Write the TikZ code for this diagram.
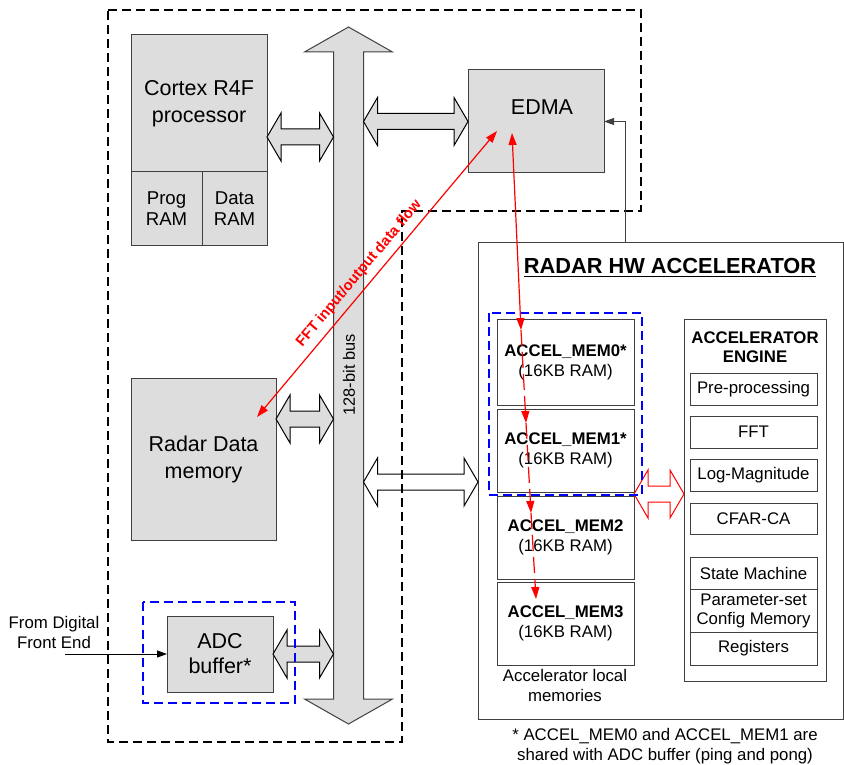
\documentclass[tikz,border=0pt]{standalone}
\usepackage{fontspec}
\setmainfont{Liberation Sans}
\setsansfont{Liberation Sans}
\usetikzlibrary{arrows.meta, positioning, calc}
\definecolor{blockgray}{RGB}{221,221,221}
\definecolor{blockline}{RGB}{64,64,64}
\definecolor{flowred}{RGB}{255,0,0}
\definecolor{groupblue}{RGB}{0,0,255}
\newcommand{\bigtxt}{\fontsize{10.75}{13.5}\selectfont}
\newcommand{\ramtxt}{\fontsize{9.3}{10.5}\selectfont}
\newcommand{\smalltxt}{\fontsize{8.4}{10}\selectfont}
\newcommand{\titletxt}{\fontsize{10.9}{13}\selectfont\bfseries}
% horizontal double block arrow between two points
\newcommand{\dblblock}[3][]{%
  \path[#1] let \p1=#2, \p2=#3 in
    (\x1,\y1) -- ({\x1+7pt},{\y1+12pt}) -- ({\x1+7pt},{\y1+4pt})
    -- ({\x2-7pt},{\y1+4pt}) -- ({\x2-7pt},{\y1+12pt}) -- (\x2,\y1)
    -- ({\x2-7pt},{\y1-12pt}) -- ({\x2-7pt},{\y1-4pt})
    -- ({\x1+7pt},{\y1-4pt}) -- ({\x1+7pt},{\y1-12pt}) -- cycle;}
\tikzset{
  font=\sffamily,
  baseblock/.style={
    rectangle, draw=blockline, line width=0.5pt,
    inner sep=0pt, outer sep=0pt, align=center
  },
  grayblock/.style={baseblock, fill=blockgray, font=\bigtxt},
  memblock/.style={baseblock, fill=white, font=\smalltxt, minimum width=68.5pt, minimum height=41.5pt},
  enginepart/.style={baseblock, fill=white, font=\smalltxt, minimum width=63.5pt, minimum height=16pt},
  subsysbox/.style={draw=black, line width=0.6pt, dash pattern=on 4.5pt off 2.5pt},
  bluegroup/.style={draw=groupblue, line width=0.6pt, dash pattern=on 4.5pt off 2.5pt},
  busbody/.style={draw=blockline, fill=blockgray, line width=0.5pt},
  grayconn/.style={draw=black, fill=blockgray, line width=0.5pt},
  whiteconn/.style={draw=black, fill=white, line width=0.5pt},
  redconn/.style={draw=flowred, fill=white, line width=0.5pt},
  flowline/.style={draw=blockline, line width=0.5pt, -{Triangle[length=5pt, width=3.5pt]}},
  fftflow/.style={
    draw=flowred, line width=0.6pt,
    {Triangle[length=6pt, width=4pt]}-{Triangle[length=6pt, width=4pt]}
  },
  memflow/.style={
    draw=flowred, line width=0.6pt, dash pattern=on 8pt off 3pt,
    -{Triangle[length=6pt, width=4pt]}
  }
}
\begin{document}
\begin{tikzpicture}[x=0.5pt, y=-0.5pt]
  \useasboundingbox (0,0) rectangle (844,764);

  % 128-bit bus
  \draw[busbody] (348.5,27) -- (392.5,52) -- (363.5,52) -- (363.5,699) -- (392.5,699)
    -- (348.5,724) -- (304.5,699) -- (333.5,699) -- (333.5,52) -- (304.5,52) -- cycle;
  \coordinate (busW) at (333.5,0);
  \coordinate (busE) at (363.5,0);
  \node[font=\fontsize{8.2}{10}\selectfont, rotate=90] (buslabel) at (349,375) {128-bit bus};

  % Processor
  \node[grayblock, minimum width=68pt, minimum height=68.5pt] (cpu) at (199,103.5) {Cortex R4F\\processor};
  \node[grayblock, font=\ramtxt, minimum width=35.5pt, minimum height=37pt,
    below right=0pt and 0pt of cpu.south west] (program) {Prog\\RAM};
  \node[grayblock, font=\ramtxt, minimum width=32.5pt, minimum height=37pt,
    right=0pt of program] (dataram) {Data\\RAM};

  % Radar data memory
  \node[grayblock, minimum width=72.5pt, minimum height=81pt] (radar) at (203.5,459) {Radar Data\\memory};

  % ADC buffer
  \node[grayblock, font=\fontsize{10.75}{12.5}\selectfont, minimum width=53pt, minimum height=38pt] (adc) at (220,654) {ADC\\buffer*};
  \node[font=\smalltxt, align=center] (dfe) at (54,632) {From Digital\\Front End};
  \coordinate (dfein) at (65,654);
  \draw[flowline, draw=black] (dfein) -- (adc.west);

  % EDMA
  \node[grayblock, minimum width=68pt, minimum height=51.5pt] (edma) at (536,121.5) {};
  \node[font=\bigtxt] (edmatext) at (542,107) {EDMA};

  % Accelerator
  \node[baseblock, minimum width=182.5pt, minimum height=238pt] (accel) at (660.5,481) {};
  \node[font=\titletxt] (acceltitle) at (670,268) {\underline{RADAR HW ACCELERATOR}};

  % Local memories
  \node[memblock, minimum height=43pt] (mem0) at (565.5,362) {\textbf{ACCEL\_MEM0*}\\(16KB RAM)};
  \node[memblock, below=2pt of mem0] (mem1) {\textbf{ACCEL\_MEM1*}\\(16KB RAM)};
  \node[memblock, below=2pt of mem1] (mem2) {\textbf{ACCEL\_MEM2}\\(16KB RAM)};
  \node[memblock, below=1.5pt of mem2] (mem3) {\textbf{ACCEL\_MEM3}\\(16KB RAM)};
  \node[font=\smalltxt, align=center] (memnote) at (565,685) {Accelerator local\\memories};

  % Accelerator engine
  \node[baseblock, minimum width=71pt, minimum height=181pt] (engine) at (755,500) {};
  \node[font=\fontsize{8.4}{9.5}\selectfont\bfseries, align=center] (enginetitle) at (755,347.5) {ACCELERATOR\\ENGINE};
  \node[enginepart] (preproc) at (753.5,389) {Pre-processing};
  \node[enginepart, below=5.5pt of preproc] (fft) {FFT};
  \node[enginepart, below=5.5pt of fft] (logmag) {Log-Magnitude};
  \node[enginepart, minimum height=15.5pt, below=6pt of logmag] (cfar) {CFAR-CA};
  \node[enginepart, below=11.5pt of cfar] (fsm) {State Machine};
  \node[enginepart, minimum height=21.5pt, below=0pt of fsm, font=\fontsize{8.4}{9.5}\selectfont] (paramset) {Parameter-set\\Config Memory};
  \node[enginepart, minimum height=16.5pt, below=0pt of paramset] (regs) {Registers};

  % Footnote
  \node[font=\smalltxt, align=center] (footnote) at (665,746) {* ACCEL\_MEM0 and ACCEL\_MEM1 are\\shared with ADC buffer (ping and pong)};

  % Bus connections
  \dblblock[grayconn]{(cpu.east |- 0,137)}{(busW |- 0,137)}
  \dblblock[grayconn]{(busE |- edma.west)}{(edma.west)}
  \dblblock[grayconn]{(radar.east |- 0,419)}{(busW |- 0,419)}
  \dblblock[grayconn]{(adc.east)}{(busW |- adc.east)}
  \dblblock[whiteconn]{(busE |- 0,482)}{(accel.west |- 0,482)}
  \dblblock[redconn]{(mem1.east |- 0,494)}{(engine.west |- 0,494)}

  % Group frames
  \draw[subsysbox] (108,10) -- (641,10) -- (641,211) -- (402,211) -- (402,742) -- (108,742) -- cycle;
  \draw[bluegroup] (143,602) rectangle (295,703);
  \draw[bluegroup] (489,313) rectangle (642,495);

  % Accelerator to EDMA
  \draw[flowline] ([xshift=73.5pt]accel.north west) |- (edma.east);

  % Data flow
  \coordinate (fftmem) at ([shift={(-19,39)}]radar.north east);
  \coordinate (fftedma) at ([shift={(29,-42)}]edma.south west);
  \coordinate (edmaout) at ([shift={(44,-40)}]edma.south west);
  \coordinate (m0in) at ([shift={(24,11)}]mem0.north west);
  \coordinate (m1in) at ([shift={(29,14)}]mem1.north west);
  \coordinate (m2in) at ([shift={(34,17)}]mem2.north west);
  \coordinate (m3in) at ([shift={(39,17)}]mem3.north west);
  \draw[fftflow] (fftmem) -- node[sloped, above, pos=0.47, inner sep=3.2pt, text=flowred,
    font=\fontsize{7.4}{9}\selectfont\bfseries] (fftlabel) {FFT input/output data flow} (fftedma);
  \draw[fftflow] (edmaout) -- (m0in);
  \draw[memflow] (m0in) -- (m1in);
  \draw[memflow] (m1in) -- (m2in);
  \draw[memflow] (m2in) -- (m3in);

\end{tikzpicture}
\end{document}
